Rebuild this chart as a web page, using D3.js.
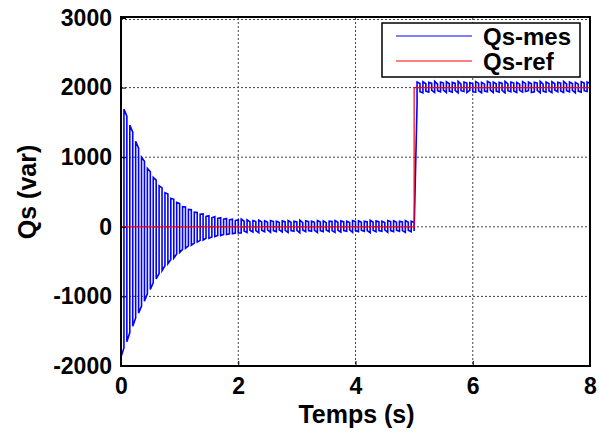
<!DOCTYPE html>
<html>
<head>
<meta charset="utf-8">
<script src="https://cdn.jsdelivr.net/npm/d3@7"></script>
<style>
  body { margin: 0; background: #fff; }
  svg text { font-family: "Liberation Sans", Arial, sans-serif; font-weight: bold; }
</style>
</head>
<body>
<div class="graph"></div>
<script>
// data (sample step 0.05 s)
let dt = 0.05

// 0 - 2 s : decaying oscillation (peaks)
let qsMaxDecay = [1800,1690,1590,1460,1360,1230,1130,1000,940,840,790,710,670,590,560,490,470,410,395,350,335,290,285,250,245,210,205,180,185,150,160,130,145,120,130,110,120,100,110,90,100]
let qsMinDecay = [-1870,-1740,-1650,-1520,-1430,-1310,-1240,-1140,-1070,-960,-900,-800,-750,-670,-630,-560,-530,-470,-450,-390,-370,-325,-310,-275,-265,-235,-220,-195,-190,-165,-165,-145,-140,-125,-125,-110,-110,-100,-100,-90,-90]

// 2.05 - 5 s : small ripple around 0
let qsMaxLow = [110,80,100,70,90,75,95,70,85,65, 90,75,80,60,85,70,90,65,80,70, 95,60,85,75,80,65,90,70,85,60, 80,75,90,65,85,70,80,60,90,75, 85,65,80,70,95,65,85,70,80,60, 90,75,85,65,80,70,90,65,80,60]
let qsMinLow = [-90,-60,-80,-50,-75,-55,-85,-50,-70,-45, -80,-55,-70,-45,-75,-50,-80,-55,-65,-50, -85,-45,-70,-55,-65,-50,-80,-55,-70,-45, -70,-55,-80,-50,-75,-55,-65,-45,-80,-55, -70,-50,-65,-55,-85,-50,-70,-55,-65,-45, -80,-55,-70,-50,-65,-55,-80,-50,-70,-60]

// 5.05 - 8 s : ripple around 2000
let qsMaxHigh = [2080,2060,2085,2055,2075,2060,2090,2050,2080,2065, 2085,2055,2075,2060,2090,2050,2080,2065,2070,2055, 2085,2060,2075,2050,2090,2065,2080,2055,2075,2060, 2090,2055,2080,2065,2075,2050,2085,2060,2080,2055, 2075,2065,2090,2050,2080,2060,2085,2055,2075,2065, 2090,2055,2080,2060,2075,2050,2085,2065,2080,2060]
let qsMinHigh = [1760,1940,1925,1950,1935,1960,1930,1955,1940,1965, 1930,1950,1935,1960,1925,1955,1945,1930,1960,1940, 1935,1955,1925,1950,1940,1965,1930,1950,1935,1960, 1925,1955,1940,1950,1930,1960,1935,1945,1955,1930, 1940,1960,1925,1950,1935,1955,1930,1965,1940,1950, 1930,1955,1940,1960,1925,1950,1935,1955,1945,1940]

// reference
let refTime = [0, 5, 5, 8]
let refValue = [0, 0, 2000, 2000]

let xTicks = [0, 2, 4, 6, 8]
let yTicks = [-2000, -1000, 0, 1000, 2000, 3000]
let legendLabels = ['Qs-mes', 'Qs-ref']

let svgWidth = 599
let svgHeight = 439
let margin = { left: 121, right: 9, top: 18, bottom: 73 }
let width = svgWidth - margin.left - margin.right
let height = svgHeight - margin.top - margin.bottom

let svg = d3.select('.graph')
  .append('svg')
  .attr('width', svgWidth)
  .attr('height', svgHeight)
  .append('g')
  .attr('transform', `translate(${margin.left},${margin.top})`)

let xScale = d3.scaleLinear().domain([0, 8]).range([0, width])
let yScale = d3.scaleLinear().domain([-2000, 3000]).range([height, 0])

// build samples: [t, max, min]
let samples = []
qsMaxDecay.forEach((v, i) => samples.push([i * dt, v, qsMinDecay[i]]))
qsMaxLow.forEach((v, i) => samples.push([2.05 + i * dt, v, qsMinLow[i]]))
qsMaxHigh.forEach((v, i) => samples.push([5.05 + i * dt, v, qsMinHigh[i]]))

let pts = []
samples.forEach((s, i) => {
  if (i % 2 === 0) { pts.push([s[0], s[1]]); pts.push([s[0], s[2]]) }
  else { pts.push([s[0], s[2]]); pts.push([s[0], s[1]]) }
})

// grid
let grid = svg.append('g').attr('class', 'grid')
grid.selectAll('.gx')
  .data(xTicks.filter(d => d > 0 && d < 8))
  .join('line')
  .attr('x1', d => xScale(d)).attr('x2', d => xScale(d))
  .attr('y1', 0).attr('y2', height)
grid.selectAll('.gy')
  .data(yTicks.filter(d => d > -2000))
  .join('line')
  .attr('class', 'gy')
  .attr('x1', 0).attr('x2', width)
  .attr('y1', d => yScale(d) + (d === 3000 ? 1.5 : 0)).attr('y2', d => yScale(d) + (d === 3000 ? 1.5 : 0))
grid.selectAll('line')
  .attr('stroke', '#444')
  .attr('stroke-width', 1)
  .attr('stroke-dasharray', '2,2')

let line = d3.line()
  .x(d => xScale(d[0]))
  .y(d => yScale(d[1]))

svg.append('path')
  .attr('d', line(pts))
  .attr('fill', 'none')
  .attr('stroke', '#0000ff')
  .attr('stroke-width', 1.6)

svg.append('path')
  .attr('d', line(refTime.map((t, i) => [t, refValue[i]])))
  .attr('fill', 'none')
  .attr('stroke', '#ff0000')
  .attr('stroke-width', 1.2)

// axes
let fmt = d => String(d)
let xAxis = d3.axisBottom(xScale).tickValues(xTicks).tickFormat(fmt).tickSizeInner(-5).tickSizeOuter(0).tickPadding(12)
let yAxis = d3.axisLeft(yScale).tickValues(yTicks).tickFormat(fmt).tickSizeInner(-5).tickSizeOuter(0).tickPadding(9)

svg.append('g')
  .attr('id', 'x-axis')
  .attr('transform', `translate(0,${height})`)
  .call(xAxis)
svg.append('g')
  .attr('id', 'y-axis')
  .call(yAxis)

svg.selectAll('#x-axis, #y-axis').select('.domain').remove()
svg.selectAll('.tick line').attr('stroke', '#000')
svg.selectAll('.tick text')
  .attr('fill', '#000')
  .style('font-size', '23px')

// box
svg.append('rect')
  .attr('x', 0).attr('y', -1)
  .attr('width', width).attr('height', height + 1)
  .attr('fill', 'none')
  .attr('stroke', '#000')
  .attr('stroke-width', 2)

// titles
svg.append('text')
  .attr('x', width / 2 + 1)
  .attr('y', height + 57)
  .attr('text-anchor', 'middle')
  .style('font-size', '25px')
  .text('Temps (s)')

svg.append('text')
  .attr('transform', `translate(${36 - margin.left},${height / 2}) rotate(-90)`)
  .attr('text-anchor', 'middle')
  .style('font-size', '25px')
  .text('Qs (var)')

// legend
let legend = svg.append('g').attr('transform', `translate(${382 - margin.left},${23 - margin.top})`)
legend.append('rect')
  .attr('width', 198).attr('height', 54)
  .attr('fill', '#fff')
  .attr('stroke', '#000')
  .attr('stroke-width', 1.5)
let legendColors = ['#0000ff', '#ff0000']
legendLabels.forEach((lab, i) => {
  legend.append('line')
    .attr('x1', 14).attr('x2', 90)
    .attr('y1', 13 + i * 25).attr('y2', 13 + i * 25)
    .attr('stroke', legendColors[i])
    .attr('stroke-width', 1)
  legend.append('text')
    .attr('x', 101)
    .attr('y', 22 + i * 25)
    .style('font-size', '24px')
    .text(lab)
})
</script>
</body>
</html>
